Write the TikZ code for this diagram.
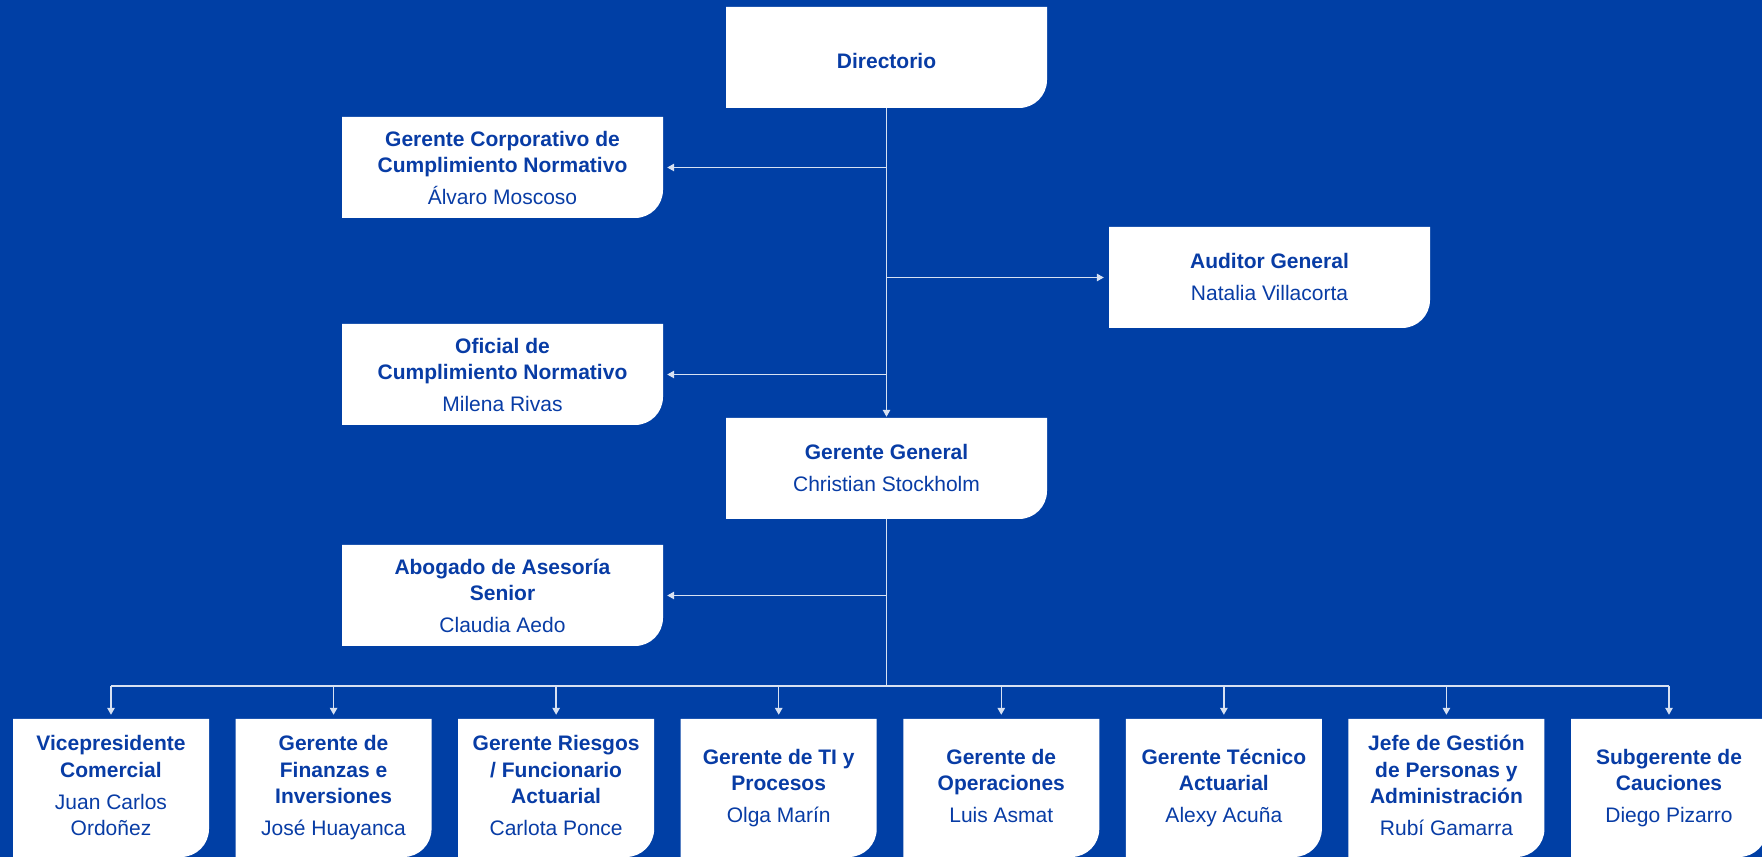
\documentclass[tikz,border=0pt]{standalone}
\usepackage{fontspec}
\setmainfont{Liberation Sans}
\usetikzlibrary{arrows.meta,calc}
\definecolor{bgblue}{RGB}{0,63,165}
\definecolor{txtblue}{RGB}{8,60,165}
\definecolor{linec}{RGB}{215,225,242}
% [text dy], name, cx, cy, width, height, text
\newcommand\orgbox[7][0]{%
  \fill[boxfill] (#3-#5/2,#4+#6/2) -- (#3+#5/2,#4+#6/2) -- (#3+#5/2,#4-#6/2+28)
     arc[start angle=0,end angle=-90,radius=28pt] -- (#3-#5/2,#4-#6/2) -- cycle;
  \node[boxgeom,minimum width=#5pt,minimum height=#6pt] (#2) at (#3,#4) {};
  \node[boxtext] at (#3,#4+#1) {\strut#7\strut};
}
\newcommand\ttl[1]{\textbf{#1}}
\begin{document}
\begin{tikzpicture}[x=1pt,y=1pt,
  boxfill/.style={white},
  boxgeom/.style={inner sep=0pt, rectangle},
  boxtext/.style={inner sep=0pt, align=center, text=txtblue, font=\fontsize{21}{26.5}\selectfont},
  conn/.style={draw=linec, line width=1.3pt},
  arr/.style={conn, -{Triangle[length=7pt,width=7.5pt]}, shorten >=4pt}]
\fill[bgblue] (0,0) rectangle (1762,857);
\clip (0,0) rectangle (1762,857);
\useasboundingbox (0,0) rectangle (1762,857);

\orgbox[-6]{dir}{886.5}{799.5}{321}{101}{\ttl{Directorio}}
\orgbox[-2.5]{gcn}{502.5}{689.5}{321}{101}{\ttl{Gerente Corporativo de}\\\ttl{Cumplimiento Normativo}\\[5.5pt]Álvaro Moscoso}
\orgbox[-1.5]{aud}{1269.5}{579.5}{321}{101}{\ttl{Auditor General}\\[5.5pt]Natalia Villacorta}
\orgbox[-2.5]{ocn}{502.5}{482.5}{321}{101}{\ttl{Oficial de}\\\ttl{Cumplimiento Normativo}\\[5.5pt]Milena Rivas}
\orgbox[-1.5]{gg}{886.5}{388.5}{321}{101}{\ttl{Gerente General}\\[5.5pt]Christian Stockholm}
\orgbox[-2.5]{abo}{502.5}{261.5}{321}{101}{\ttl{Abogado de Asesoría}\\\ttl{Senior}\\[5.5pt]Claudia Aedo}

\orgbox{b1}{111}{69}{196}{138}{\ttl{Vicepresidente}\\\ttl{Comercial}\\[5.5pt]Juan Carlos\\Ordoñez}
\orgbox{b2}{333.57}{69}{196}{138}{\ttl{Gerente de}\\\ttl{Finanzas e}\\\ttl{Inversiones}\\[5.5pt]José Huayanca}
\orgbox{b3}{556.14}{69}{196}{138}{\ttl{Gerente Riesgos}\\\ttl{/ Funcionario}\\\ttl{Actuarial}\\[5.5pt]Carlota Ponce}
\orgbox{b4}{778.71}{69}{196}{138}{\ttl{Gerente de TI y}\\\ttl{Procesos}\\[5.5pt]Olga Marín}
\orgbox{b5}{1001.28}{69}{196}{138}{\ttl{Gerente de}\\\ttl{Operaciones}\\[5.5pt]Luis Asmat}
\orgbox{b6}{1223.85}{69}{196}{138}{\ttl{Gerente Técnico}\\\ttl{Actuarial}\\[5.5pt]Alexy Acuña}
\orgbox{b7}{1446.42}{69}{196}{138}{\ttl{Jefe de Gestión}\\\ttl{de Personas y}\\\ttl{Administración}\\[5.5pt]Rubí Gamarra}
\orgbox{b8}{1669}{69}{196}{138}{\ttl{Subgerente de}\\\ttl{Cauciones}\\[5.5pt]Diego Pizarro}

% connectors
\coordinate (bus) at (0,171);
\draw[arr, shorten >=1pt] (dir.south) -- (gg.north);
\draw[arr] (dir.south |- gcn.east) -- (gcn.east);
\draw[arr, shorten >=5pt] (dir.south |- aud.west) -- (aud.west);
\draw[arr] (dir.south |- ocn.east) -- (ocn.east);
\draw[conn] (gg.south) -- (gg.south |- bus);
\draw[arr] (gg.south |- abo.east) -- (abo.east);
\draw[conn] (b1.north |- bus) -- (b8.north |- bus);
\foreach \b in {b1,b2,b3,b4,b5,b6,b7,b8}
  \draw[arr] (\b.north |- bus) -- (\b.north);
\end{tikzpicture}
\end{document}
